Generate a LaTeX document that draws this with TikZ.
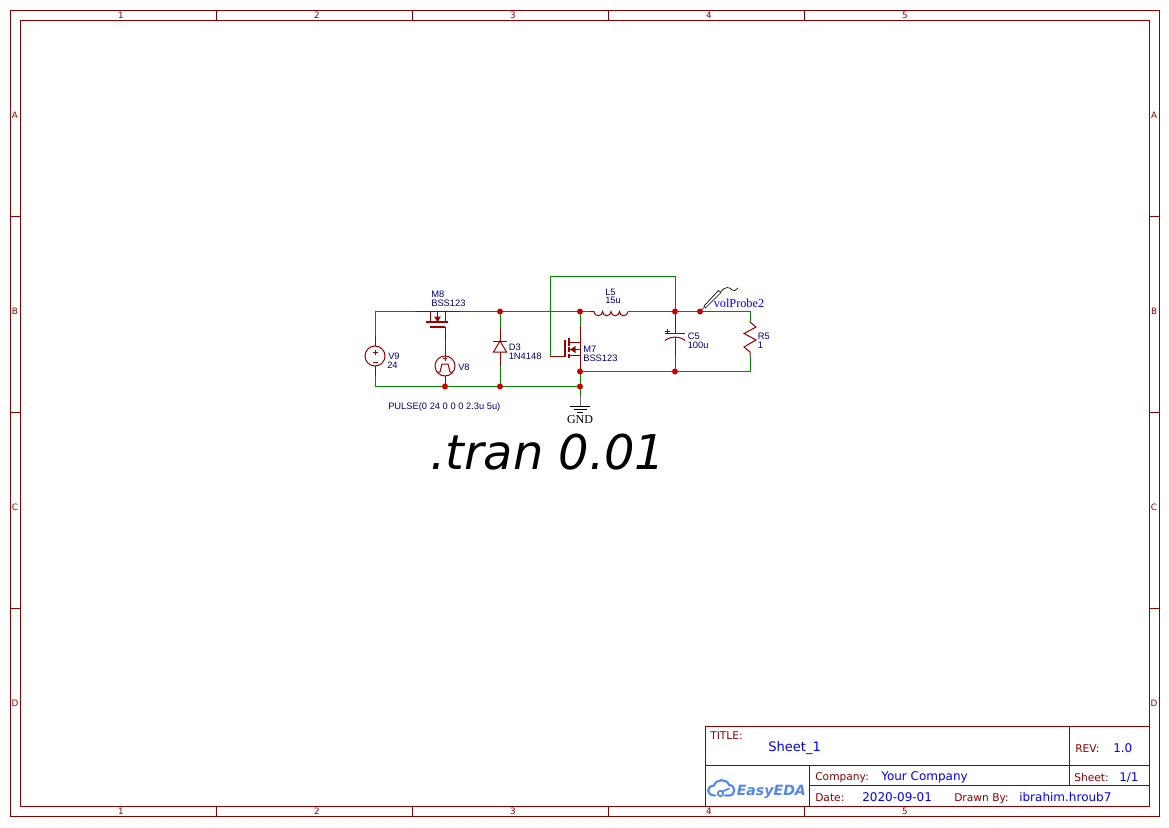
\documentclass[tikz,border=0pt]{standalone}
\usepackage{fontspec}
\setmainfont{Liberation Sans}
\newfontfamily\dejavu{DejaVu Sans}
\newfontfamily\timesf{Liberation Serif}
\usetikzlibrary{arrows.meta}
\definecolor{framec}{HTML}{8B0000}
\definecolor{wirec}{HTML}{008800}
\definecolor{symc}{HTML}{990000}
\definecolor{dotc}{HTML}{CC0000}
\definecolor{lblc}{HTML}{000080}
\definecolor{valc}{HTML}{0000FF}
\definecolor{logoc}{HTML}{5588EE}
\newcommand{\pxfont}[2]{\fontsize{#1}{#1}\selectfont #2}
\tikzset{
  x=0.75pt,y=-0.75pt,
  fr/.style={draw=framec,line width=0.75pt},
  wire/.style={draw=wirec,line width=0.75pt},
  sym/.style={draw=symc,line width=0.75pt},
  symthick/.style={draw=symc,line width=1.5pt},
  jn/.style={circle,fill=dotc,draw=none,inner sep=0pt,minimum size=4.5pt},
  lbl/.style={anchor=base west,inner sep=0pt,text=lblc,font=\pxfont{7}{}},
  frtxt/.style={inner sep=0pt,text=framec,font=\dejavu\pxfont{6.6}{}},
  tbl/.style={anchor=base west,inner sep=0pt,text=framec,font=\dejavu\pxfont{8}{}},
  tbv/.style={anchor=base west,inner sep=0pt,text=valc,font=\dejavu\pxfont{9}{}},
}
\begin{document}
\begin{tikzpicture}
\useasboundingbox (0,0) rectangle (1169,827);
\fill[white] (0,0) rectangle (1169,827);
% frame
\draw[fr] (10,10.5) rectangle (1159,816.5);
\draw[fr] (20,20.5) rectangle (1149,806.5);
\foreach \x in {216,412,608,804}{
  \draw[fr] (\x,10.5)--(\x,20.5);
  \draw[fr] (\x,806.5)--(\x,816.5);}
\foreach \y in {216.5,412.5,608.5}{
  \draw[fr] (10,\y)--(20,\y);
  \draw[fr] (1149,\y)--(1159,\y);}
\foreach \x/\t in {121/1,317/2,513/3,709/4,905/5}{
  \node[frtxt] (top\t) at (\x,15.5) {\t};
  \node[frtxt] (bot\t) at (\x,811.5) {\t};}
\foreach \y/\t in {115/A,311/B,507/C,703/D}{
  \node[frtxt] (lft\t) at (15,\y) {\t};
  \node[frtxt] (rgt\t) at (1154,\y) {\t};}
% title block
\draw[fr] (705,726.5) rectangle (1149,806.5);
\draw[fr] (705,765.5)--(1149,765.5);
\draw[fr] (809.5,785.5)--(1149,785.5);
\draw[fr] (809.5,765.5)--(809.5,806.5);
\draw[fr] (1069.5,726.5)--(1069.5,785.5);
\node[tbl] (ttl) at (710,739.3) {TITLE:};
\node[tbv,font=\dejavu\pxfont{9.8}{}] (sheetn) at (768,751.7) {Sheet\_1};
\node[tbl] (comp) at (815,780) {Company:};
\node[tbv] (compv) at (881,780) {Your Company};
\node[tbl] (dat) at (815,801) {Date:};
\node[tbv] (datv) at (862,801) {2020-09-01};
\node[tbl] (drw) at (954,801) {Drawn By:};
\node[tbv] (drwv) at (1019,801) {ibrahim.hroub7};
\node[tbl] (rev) at (1075,752.7) {REV:};
\node[tbv] (revv) at (1113,752.7) {1.0};
\node[tbl] (sht) at (1074,781.7) {Sheet:};
\node[tbv] (shtv) at (1119,781.7) {1/1};
% logo
\draw[logoc,line width=1.6pt,line join=round,line cap=round]
  (715,795.5) .. controls (706,795.5) and (706,786) .. (714,785.5)
  .. controls (716,778.5) and (727,778.5) .. (729,785)
  .. controls (736,785) and (736,795.5) .. (729,795.5)--(725,795.5);
\draw[logoc,line width=1.3pt] (720.5,793.5) circle[radius=2.7];
\draw[logoc,line width=1.3pt,line cap=round] (722.5,791.5) -- (729,788.5);
\node[anchor=base west,inner sep=0pt,text=logoc,font=\dejavu\bfseries\itshape\pxfont{10.6}{}] (logo) at (736.5,795.5) {EasyEDA};
% junctions / terminals
\foreach \n/\p in {jA/{500,311.5},jB/{580,311.5},jC/{675,311.5},jD/{700,311.5},
  jE/{445,386.5},jF/{500,386.5},jG/{580,386.5},jH/{580,371.5},jI/{675,371.5}}{
  \coordinate (\n) at (\p);}
\coordinate (tl) at (375,311.5);
\coordinate (bl) at (375,386.5);
\coordinate (m8s) at (415,311.5);
\coordinate (m8d) at (460,311.5);
\coordinate (lA) at (594,311.5);
\coordinate (lB) at (628,311.5);
\coordinate (tr) at (750,311.5);
\coordinate (br) at (750,371.5);
\coordinate (rA) at (750,321);
\coordinate (rB) at (750,356);
\coordinate (loopa) at (550,276.5);
\coordinate (loopb) at (675,276.5);
\coordinate (loopc) at (550,356.5);
\coordinate (m7g) at (565,356.5);
\coordinate (gndt) at (580,396);
\coordinate (gndb) at (580,406.5);
% wires
\draw[wire] (m8d)--(jA)--(jB)--(lA);
\draw[wire] (lB)--(jC)--(jD)--(tr)--(rA);
\draw[wire] (rB)--(br)--(jI)--(jH);
\draw[wire] (m8s)--(tl)--(375,336);
\draw[wire] (375,376)--(bl)--(jE)--(jF)--(jG);
\draw[wire] (445,341)--(445,345);
\draw[wire] (jA)--(500,327);
\draw[wire] (500,366)--(jF);
\draw[wire] (jB)--(580,326);
\draw[wire] (jH)--(jG)--(gndt);
\draw[wire] (jC)--(675,315);
\draw[wire] (675,356)--(jI);
\draw[wire] (loopc)--(loopa)--(loopb)--(jC);
% V9
\draw[sym] (375,336)--(375,346) (375,366)--(375,376);
\draw[sym] (375,356) circle[radius=10];
\draw[sym] (372.5,352)--(377.5,352) (375,349.5)--(375,354.5) (372.5,362)--(377.5,362);
% V8
\draw[sym] (445,345)--(445,356) (445,376)--(jE);
\draw[sym] (445,366) circle[radius=10];
\draw[sym] (443,358.5)--(447,358.5) (445,356.5)--(445,360.5);
\draw[sym] (437,372)--(440,372)--(442,364)--(448,364)--(450,372)--(453,372);
% M8
\draw[sym] (m8s)--(m8d);
\draw[sym] (430,311.5)--(430,322) (445,311.5)--(445,322) (437.5,311.5)--(437.5,322);
\draw[symthick] (426,321.7)--(448,321.7);
\draw[symthick] (430,327)--(445,327);
\draw[sym] (445,327)--(445,341);
\fill[symc] (437.5,322)--(434,316.5)--(441,316.5)--cycle;
% D3
\draw[sym] (500,327)--(500,341) (500,352)--(500,366);
\draw[sym] (493,341)--(507,341);
\draw[sym] (500,341)--(493.5,352)--(506.5,352)--cycle;
% M7
\draw[sym] (580,326)--(580,342.5)--(570,342.5);
\draw[sym] (580,349.5)--(570,349.5);
\draw[sym] (570,355.5)--(580,355.5)--(jH);
\draw[sym] (580,342.5)--(580,355.5);
\draw[symthick] (569,338)--(569,345.5) (569,347)--(569,352) (569,353.5)--(569,358);
\draw[symthick] (565,340)--(565,357);
\draw[sym] (loopc)--(m7g);
\fill[symc] (570,349.5)--(575.5,346)--(575.5,353)--cycle;
% L5
\draw[sym] (590,311.5)--(lA)
  arc[start angle=180,end angle=0,radius=4.25]
  arc[start angle=180,end angle=0,radius=4.25]
  arc[start angle=180,end angle=0,radius=4.25]
  arc[start angle=180,end angle=0,radius=4.25];
% C5
\draw[sym] (675,315)--(675,333) (675,337)--(675,356);
\draw[sym] (665,333)--(685,333);
\draw[sym] (665,340.5) .. controls (670,336) and (680,336) .. (685,340.5);
\draw[sym] (664.5,331)--(669.5,331) (667,328.5)--(667,333);
% R5
\draw[sym] (rA)--(750,322)--(756,327)--(744,333.5)--(756,340)--(744,347)--(750,352)--(rB);
% GND
\draw[draw=gray!90!black,line width=0.75pt] (gndt)--(gndb);
\draw[draw=black,line width=0.75pt] (570,406.5)--(590,406.5);
\draw[draw=black,line width=0.75pt] (573.5,409.5)--(586.5,409.5);
\draw[draw=black,line width=0.75pt] (577,412)--(583,412);
\node[anchor=base,inner sep=0pt,text=black,font=\timesf\pxfont{9}{}] (gndl) at (580,423) {GND};
% probe
\draw[black,line width=0.5pt] (jD)--(704,307.5);
\draw[black,line width=0.5pt] (704,306)--(718.5,290.5)--(721,292.5)--(705.5,308)--cycle;
\draw[black,line width=0.5pt] (721,291.5) .. controls (725,286) and (730,287) .. (732,290) .. controls (734,292) and (736,290) .. (738,288);
% dots
\foreach \n in {jA,jB,jC,jD,jE,jF,jG,jH,jI}{\node[jn] at (\n) {};}
% labels
\node[lbl] (m8a) at (431,297.3) {M8};
\node[lbl] (m8b) at (431,306) {BSS123};
\node[lbl] (v9a) at (388,359.3) {V9};
\node[lbl] (v9b) at (387,368.7) {24};
\node[lbl] (v8a) at (458,370) {V8};
\node[lbl] (d3a) at (508.5,350) {D3};
\node[lbl] (d3b) at (508.5,359) {1N4148};
\node[lbl] (pulse) at (388,409) {PULSE(0 24 0 0 0 2.3u 5u)};
\node[lbl] (m7a) at (583,352.7) {M7};
\node[lbl] (m7b) at (583,361) {BSS123};
\node[lbl] (l5a) at (605,295) {L5};
\node[lbl] (l5b) at (605,303.3) {15u};
\node[lbl] (c5a) at (687.5,339.3) {C5};
\node[lbl] (c5b) at (687.5,348.7) {100u};
\node[lbl] (r5a) at (757.5,339.3) {R5};
\node[lbl] (r5b) at (757.5,348) {1};
\node[anchor=base west,inner sep=0pt,text=valc,font=\timesf\pxfont{9.2}{}] (vp) at (713.5,307.3) {volProbe2};
\node[anchor=base west,inner sep=0pt,text=black,font=\dejavu\itshape\pxfont{35.9}{}] (tran) at (430,469) {.tran 0.01};
\end{tikzpicture}
\end{document}
